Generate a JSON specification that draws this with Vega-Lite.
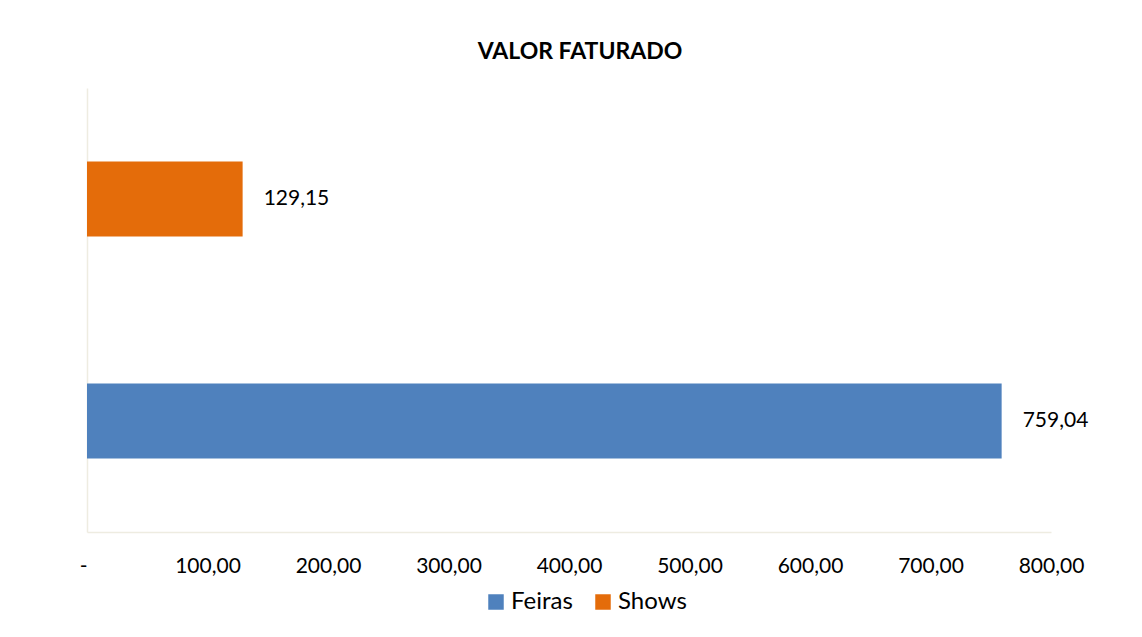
{
  "$schema": "https://vega.github.io/schema/vega-lite/v6.json",
  "width": 964,
  "height": 444,
  "autosize": {"type": "none"},
  "padding": {"left": 87, "top": 88, "right": 91, "bottom": 105},
  "background": "white",
  "config": {"view": {"stroke": null}, "font": "Lato"},
  "title": {
    "text": "VALOR FATURADO",
    "fontSize": 23,
    "fontWeight": "bold",
    "font": "Lato",
    "color": "#000000",
    "anchor": "middle",
    "offset": 24,
    "dx": 11
  },
  "data": {
    "values": [
      {"categoria": "Shows", "valor": 129.15, "rotulo": "129,15"},
      {"categoria": "Feiras", "valor": 759.04, "rotulo": "759,04"}
    ]
  },
  "encoding": {
    "y": {
      "field": "categoria",
      "type": "nominal",
      "sort": ["Shows", "Feiras"],
      "axis": {
        "title": null,
        "labels": false,
        "ticks": false,
        "grid": false,
        "domainColor": "#EEECE1",
        "domainWidth": 1.5
      }
    },
    "x": {
      "field": "valor",
      "type": "quantitative",
      "scale": {"domain": [0, 800]},
      "axis": {
        "title": null,
        "values": [0, 100, 200, 300, 400, 500, 600, 700, 800],
        "labelExpr": "datum.value == 0 ? '-' : replace(format(datum.value, '.2f'), '.', ',')",
        "grid": false,
        "ticks": false,
        "tickSize": 0,
        "domainColor": "#EEECE1",
        "domainWidth": 1.5,
        "labelFontSize": 21,
        "labelFont": "Lato",
        "labelColor": "#000000",
        "labelPadding": 23,
        "labelFlush": false,
        "labelOverlap": false,
        "labelAlign": {"condition": {"test": "datum.value == 0", "value": "right"}, "value": "center"}
      }
    }
  },
  "layer": [
    {
      "mark": {"type": "bar", "size": 75},
      "encoding": {
        "color": {
          "field": "categoria",
          "type": "nominal",
          "scale": {"domain": ["Feiras", "Shows"], "range": ["#4F81BD", "#E46C0A"]},
          "legend": {
            "title": null,
            "orient": "none",
            "legendX": 397,
            "legendY": 502,
            "direction": "horizontal",
            "symbolType": "square",
            "symbolSize": 240,
            "symbolStrokeWidth": 0,
            "labelFontSize": 24,
            "labelFont": "Lato",
            "labelColor": "#000000",
            "columnPadding": 18,
            "labelOffset": 3,
            "padding": 0
          }
        }
      }
    },
    {
      "mark": {"type": "text", "align": "left", "baseline": "middle", "dx": 21, "fontSize": 21, "font": "Lato", "color": "#000000"},
      "encoding": {"text": {"field": "rotulo"}}
    }
  ]
}
